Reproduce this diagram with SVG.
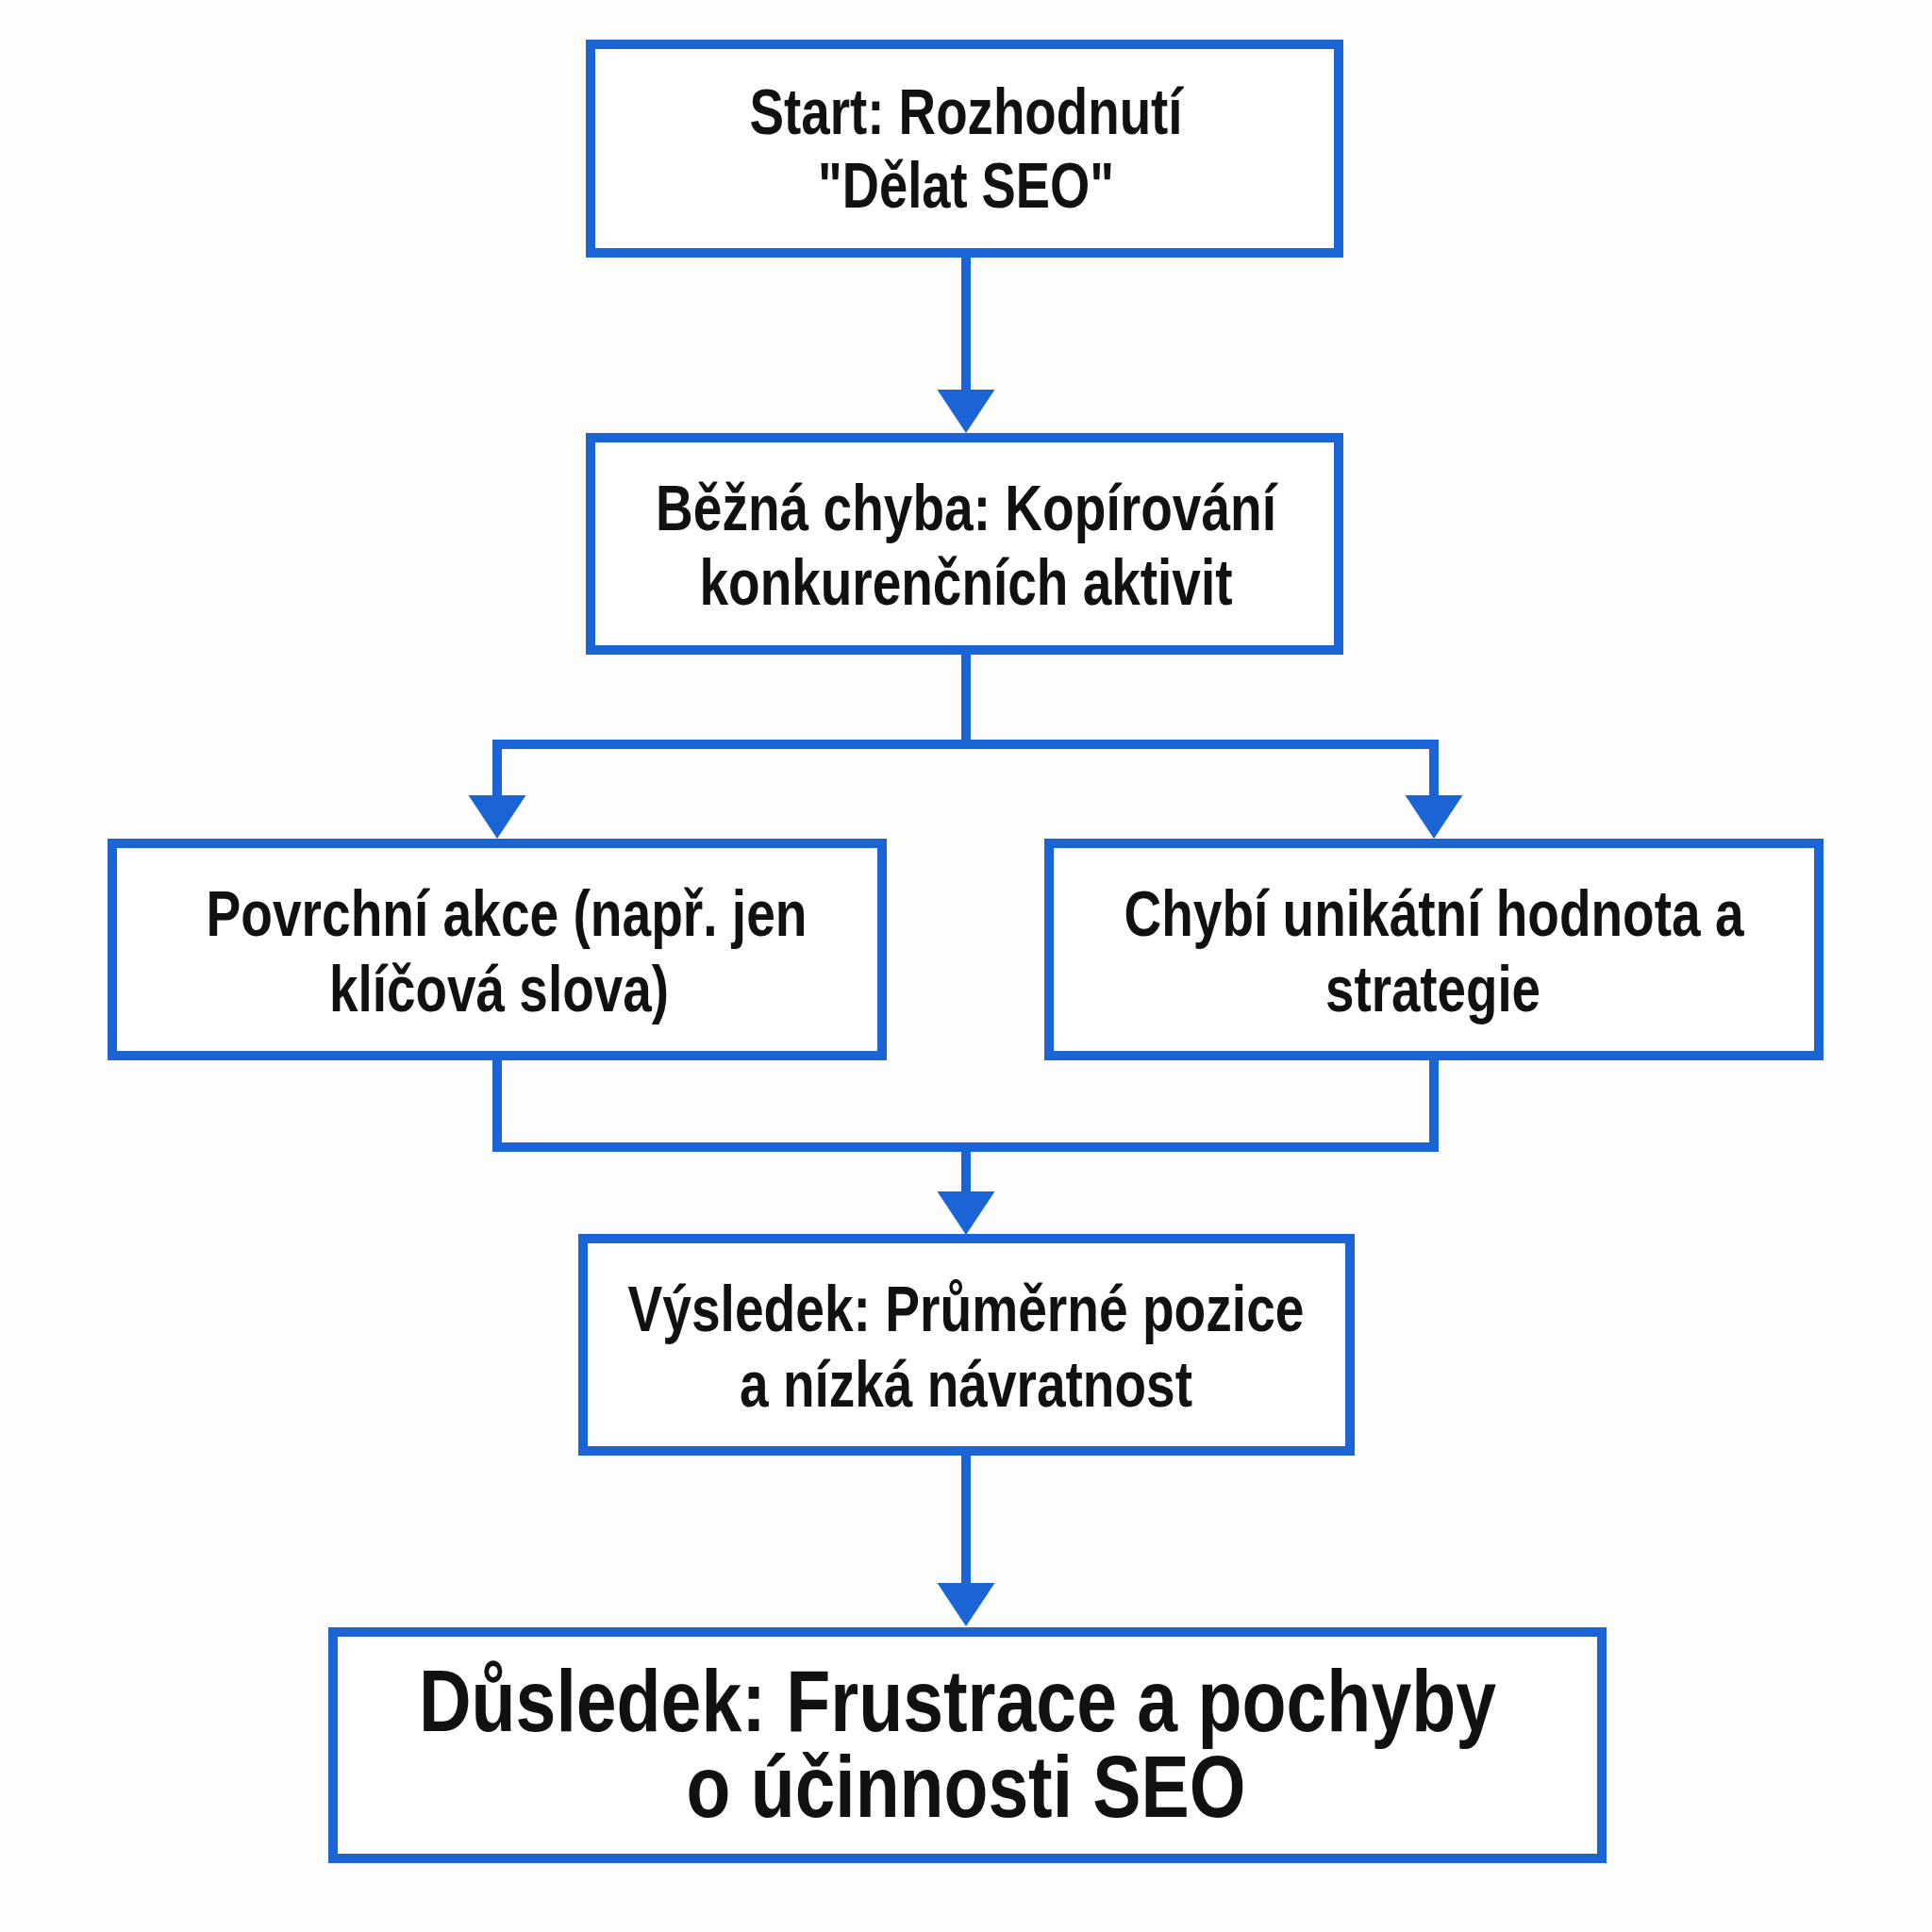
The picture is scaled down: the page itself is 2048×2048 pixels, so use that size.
<svg xmlns="http://www.w3.org/2000/svg" width="2048" height="2048" viewBox="0 0 2048 2048">
  <style>
    .box { fill: #ffffff; stroke: #1b64d6; stroke-width: 10; }
    .conn { fill: none; stroke: #1b64d6; stroke-width: 10; stroke-linejoin: miter; }
    .t { font-family: "Liberation Sans", Arial, sans-serif; font-weight: bold; fill: #111111; text-anchor: middle; font-size: 68px; }
    .big { font-size: 92px; }
  </style>
  <defs>
    <marker id="ah" markerUnits="userSpaceOnUse" markerWidth="46" markerHeight="62" viewBox="0 -31 46 62" refX="0" refY="0" orient="auto-start-reverse" overflow="visible">
      <path d="M0,-30.5 L46,0 L0,30.5 Z" fill="#1b64d6"/>
    </marker>
  </defs>
  <rect x="0" y="0" width="2048" height="2048" fill="#fdfdfc"/>

  <g id="connectors">
    <path class="conn" d="M1024 268 V413" marker-end="url(#ah)"/>
    <path class="conn" d="M1024 689 V789"/>
    <path class="conn" d="M527 843 V789 H1520 V843" marker-start="url(#ah)" marker-end="url(#ah)"/>
    <path class="conn" d="M527 1119 V1216 H1520 V1119"/>
    <path class="conn" d="M1024 1216 V1263" marker-end="url(#ah)"/>
    <path class="conn" d="M1024 1538 V1678" marker-end="url(#ah)"/>
  </g>

  <g id="start">
    <rect class="box" x="626" y="47" width="793" height="221"/>
    <text class="t" x="1024" y="142" textLength="459" lengthAdjust="spacingAndGlyphs">Start: Rozhodnutí</text>
    <text class="t" x="1024" y="220" textLength="314" lengthAdjust="spacingAndGlyphs">"Dělat SEO"</text>
  </g>

  <g id="mistake">
    <rect class="box" x="626" y="464" width="793" height="225"/>
    <text class="t" x="1024" y="562" textLength="658" lengthAdjust="spacingAndGlyphs">Běžná chyba: Kopírování</text>
    <text class="t" x="1024" y="641" textLength="565" lengthAdjust="spacingAndGlyphs">konkurenčních aktivit</text>
  </g>

  <g id="surface">
    <rect class="box" x="119" y="894" width="816" height="225"/>
    <text class="t" x="537" y="992" textLength="637" lengthAdjust="spacingAndGlyphs">Povrchní akce (např. jen</text>
    <text class="t" x="529" y="1072" textLength="360" lengthAdjust="spacingAndGlyphs">klíčová slova)</text>
  </g>

  <g id="novalue">
    <rect class="box" x="1112" y="894" width="816" height="225"/>
    <text class="t" x="1520" y="992" textLength="657" lengthAdjust="spacingAndGlyphs">Chybí unikátní hodnota a</text>
    <text class="t" x="1519" y="1072" textLength="228" lengthAdjust="spacingAndGlyphs">strategie</text>
  </g>

  <g id="result">
    <rect class="box" x="618" y="1313" width="813" height="225"/>
    <text class="t" x="1024" y="1411" textLength="717" lengthAdjust="spacingAndGlyphs">Výsledek: Průměrné pozice</text>
    <text class="t" x="1024" y="1491" textLength="480" lengthAdjust="spacingAndGlyphs">a nízká návratnost</text>
  </g>

  <g id="consequence">
    <rect class="box" x="353" y="1730" width="1345" height="240"/>
    <text class="t big" x="1015" y="1835" textLength="1142" lengthAdjust="spacingAndGlyphs">Důsledek: Frustrace a pochyby</text>
    <text class="t big" x="1024" y="1926" textLength="593" lengthAdjust="spacingAndGlyphs">o účinnosti SEO</text>
  </g>
</svg>
